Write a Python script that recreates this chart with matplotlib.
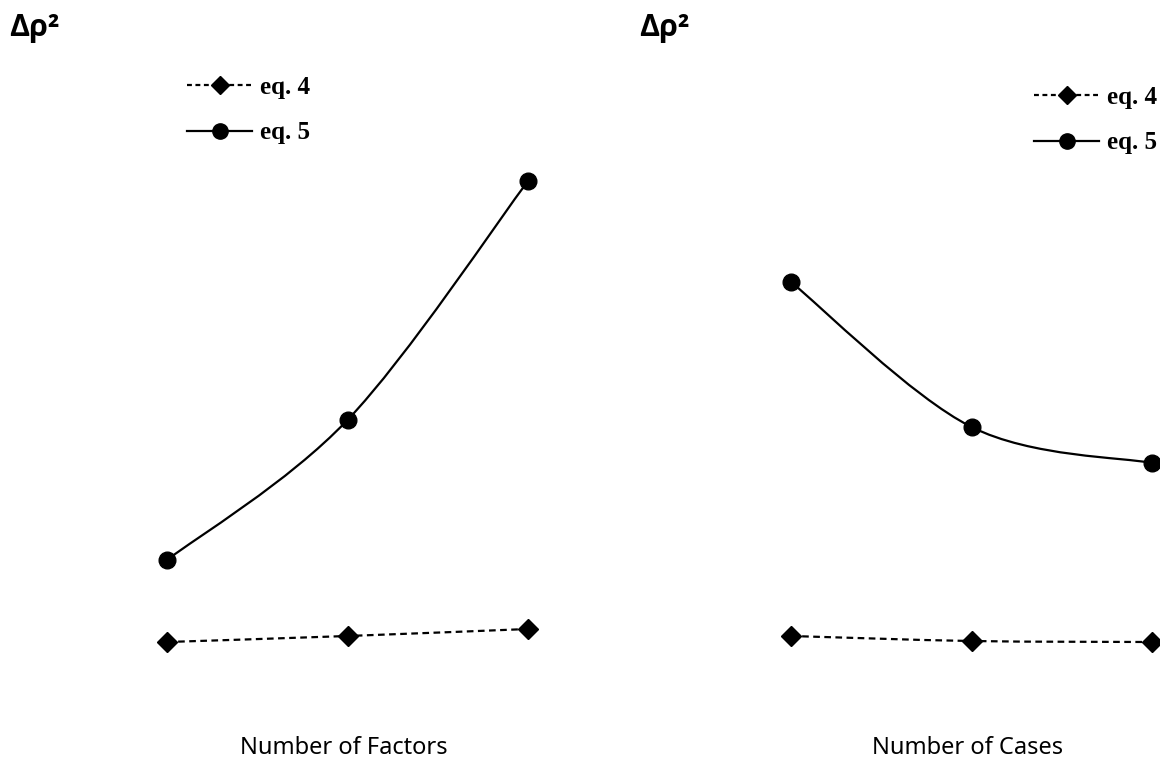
import numpy as np
import matplotlib
matplotlib.use("Agg")
import matplotlib.pyplot as plt
from matplotlib.path import Path
from matplotlib.patches import PathPatch
from matplotlib.lines import Line2D

# ------------------------------
# data (arbitrary units)
# ------------------------------
levels = [0, 1, 2]
factors_eq4 = [0.38, 0.44, 0.51]
factors_eq5 = [1.20, 2.60, 4.99]
cases_eq4 = [0.44, 0.39, 0.38]
cases_eq5 = [3.98, 2.53, 2.17]

W, H = 1160, 766
fig = plt.figure(figsize=(W / 100, H / 100), dpi=100)

DASH = (0, (3, 2))


def smooth_path(x, y):
    # catmull-rom style bezier, like a "smoothed line" in a spreadsheet
    pts = np.column_stack([x, y]).astype(float)
    ext = np.vstack([pts[0], pts, pts[-1]])
    verts = [pts[0]]
    codes = [Path.MOVETO]
    for i in range(1, len(ext) - 2):
        p0, p1, p2, p3 = ext[i - 1], ext[i], ext[i + 1], ext[i + 2]
        verts += [p1 + (p2 - p0) / 6, p2 - (p3 - p1) / 6, p2]
        codes += [Path.CURVE4] * 3
    return Path(verts, codes)


def panel(left_px, eq4, eq5, xlabel, title_px, leg_px):
    ax = fig.add_axes([left_px / W, 1 - 680 / H, 361 / W, 580 / H])
    ax.set_xlim(0, 2)
    ax.set_ylim(0, 5.8)
    ax.axis("off")

    ax.add_patch(PathPatch(smooth_path(levels, eq4), fill=False, ec="black",
                           lw=1.6, ls=DASH, clip_on=False))
    ax.add_patch(PathPatch(smooth_path(levels, eq5), fill=False, ec="black",
                           lw=1.6, clip_on=False))
    ax.plot(levels, eq4, ls="none", marker="D", ms=10, color="black", clip_on=False)
    ax.plot(levels, eq5, ls="none", marker="o", ms=12, color="black", clip_on=False)

    fig.text(title_px / W, 1 - 28 / H, "Δρ²", fontsize=22,
             family=["Open Sans", "DejaVu Sans"], weight="bold",
             va="center", ha="left")
    fig.text((left_px + 177) / W, 1 - 748 / H, xlabel, fontsize=17,
             family="Noto Sans", ha="center", va="center")

    handles = [
        Line2D([], [], color="black", lw=1.6, ls=(0, (2.2, 1.6)), marker="D", ms=9),
        Line2D([], [], color="black", lw=1.6, marker="o", ms=11),
    ]
    ax.legend(handles, ["eq. 4", "eq. 5"], loc="upper left",
              bbox_to_anchor=(leg_px[0] / W, 1 - leg_px[1] / H),
              bbox_transform=fig.transFigure, frameon=False,
              prop={"family": "Liberation Serif", "weight": "bold", "size": 18},
              handlelength=2.6, handletextpad=0.32, labelspacing=0.9,
              borderaxespad=0, borderpad=0)


panel(167, factors_eq4, factors_eq5, "Number of Factors", 9, (187, 76))
panel(791, cases_eq4, cases_eq5, "Number of Cases", 639, (1034, 86))

fig.savefig("out.png", dpi=100)
